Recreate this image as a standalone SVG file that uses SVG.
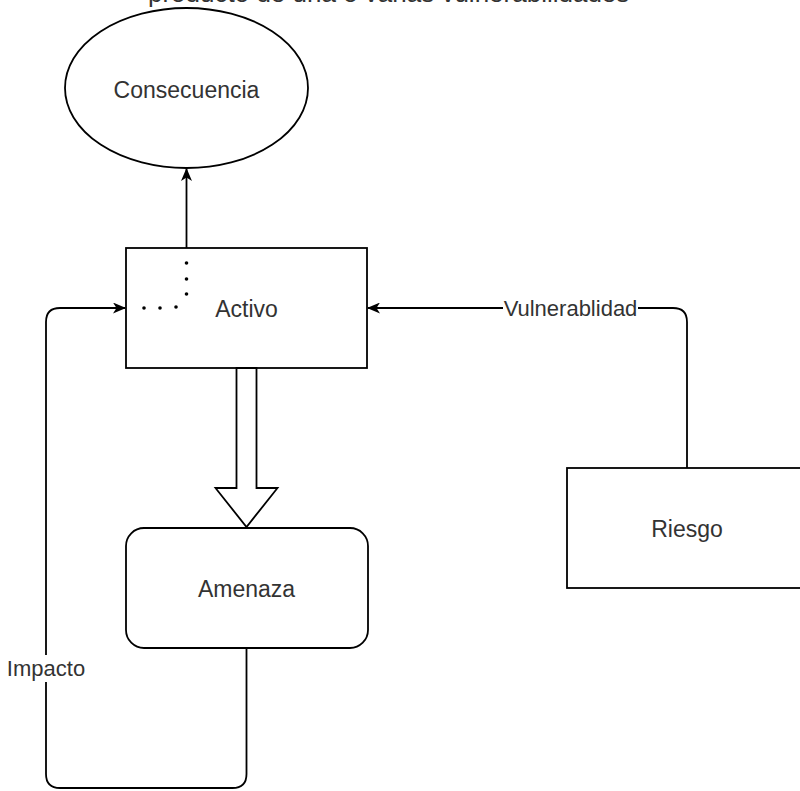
<svg xmlns="http://www.w3.org/2000/svg" width="800" height="791" viewBox="0 0 800 791">
<defs>
<style>
.shape{fill:#fff;stroke:#000;stroke-width:1.8}
.edge{fill:none;stroke:#000;stroke-width:1.8}
.dot{fill:#000}
.lbl{font-family:"Liberation Sans",Arial,sans-serif;font-size:23px;fill:#333;text-anchor:middle;dominant-baseline:central}
.elbl{font-family:"Liberation Sans",Arial,sans-serif;font-size:22px;fill:#333;text-anchor:middle;dominant-baseline:central}
</style>
<marker id="arr" viewBox="0 0 13 11" refX="12" refY="5.5" markerWidth="13" markerHeight="11" markerUnits="userSpaceOnUse" orient="auto">
<path d="M0,0 L13,5.5 L0,11 L3.5,5.5 Z" fill="#000"/>
</marker>
</defs>
<rect width="800" height="791" fill="#fff"/>
<text x="148" y="2" font-family="'Liberation Sans',Arial,sans-serif" font-size="26" fill="#333">producto de una o varias vulnerabilidades</text>

<g id="connectors">
<path class="edge" d="M186.5 248 V169" marker-end="url(#arr)"/>
<g id="dotted-edge">
<circle class="dot" cx="144" cy="308" r="1.8"/>
<circle class="dot" cx="160" cy="308" r="1.8"/>
<circle class="dot" cx="176" cy="307" r="1.8"/>
<circle class="dot" cx="186.5" cy="294" r="1.8"/>
<circle class="dot" cx="186.5" cy="279" r="1.8"/>
<circle class="dot" cx="186.5" cy="263" r="1.8"/>
</g>
<path class="edge" d="M687 468 V322 Q687 308 673 308 H368" marker-end="url(#arr)"/>
<rect x="503" y="296" width="135" height="24" fill="#fff"/>
<text class="elbl" x="570.5" y="308">Vulnerablidad</text>
<path class="edge" d="M246.5 648 V774 Q246.5 788 232.5 788 H60 Q46 788 46 774 V322 Q46 308 60 308 H125" marker-end="url(#arr)"/>
<rect x="6" y="655" width="80" height="27" fill="#fff"/>
<text class="elbl" x="46" y="668">Impacto</text>
<polygon class="shape" points="236.5,368 256.5,368 256.5,488 277.5,488 246.5,527 215.5,488 236.5,488"/>
</g>

<g id="consecuencia">
<ellipse class="shape" cx="186.5" cy="88" rx="121.5" ry="80"/>
<text class="lbl" x="186.5" y="90">Consecuencia</text>
</g>

<g id="activo">
<rect class="shape" x="126" y="248" width="241" height="120" fill-opacity="0"/>
<text class="lbl" x="246.5" y="309">Activo</text>
</g>

<g id="amenaza">
<rect class="shape" x="126" y="528" width="242" height="120" rx="18" ry="18"/>
<text class="lbl" x="246.5" y="589">Amenaza</text>
</g>

<g id="riesgo">
<rect class="shape" x="567" y="468" width="241" height="120"/>
<text class="lbl" x="687" y="529">Riesgo</text>
</g>
</svg>
